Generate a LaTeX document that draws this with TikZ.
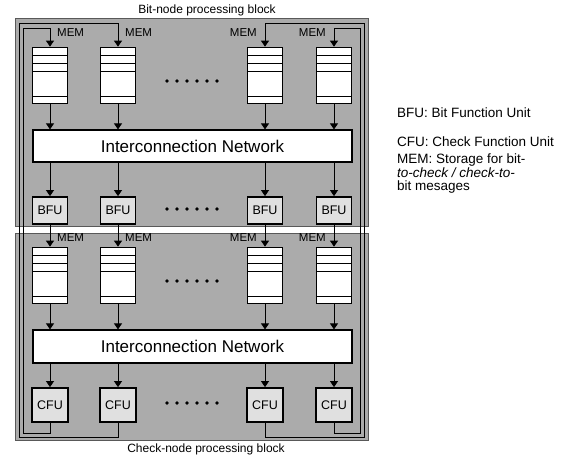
\documentclass[tikz,border=0pt]{standalone}
\usepackage{fontspec}
\setmainfont{Liberation Sans}
\usetikzlibrary{arrows.meta}

\begin{document}
\begin{tikzpicture}[x=1pt, y=-1pt,
    block/.style={fill=black!33, draw=black!65, line width=0.6pt},
    mem/.style={draw, fill=white, line width=0.7pt, minimum width=35pt, minimum height=56pt, inner sep=0pt,
        path picture={
            \foreach \dy in {8,16,24,49}
                \draw[line width=0.7pt] ([yshift=-\dy pt]path picture bounding box.north west) -- ([yshift=-\dy pt]path picture bounding box.north east);
            \foreach \dx in {-9.5,0,9.5}
                \fill ([xshift=\dx pt, yshift=-34pt]path picture bounding box.north) circle (1.9pt);
        }},
    net/.style={draw, fill=white, line width=1.2pt, minimum width=319pt, inner sep=0pt, font=\fontsize{17}{17}\selectfont},
    fu/.style={draw, fill=black!12, line width=1.8pt, minimum width=35pt, inner sep=0pt, font=\fontsize{12.5}{12.5}\selectfont},
    memlbl/.style={inner sep=0pt, font=\fontsize{11.5}{11.5}\selectfont},
    legend/.style={inner sep=0pt, align=left, font=\fontsize{13.5}{12.5}\selectfont},
    flow/.style={-{Triangle[width=8pt,length=6pt]}, line width=0.8pt},
]
    \useasboundingbox (0,0) rectangle (580,456);

    % Blocks
    \fill[block] (15,18) rectangle (368,226);
    \fill[block] (15,233) rectangle (368,440);
    \node[inner sep=0pt, font=\fontsize{12}{12}\selectfont] (bittitle) at (207,10) {Bit-node processing block};
    \node[inner sep=0pt, font=\fontsize{12}{12}\selectfont] (chktitle) at (206,449) {Check-node processing block};

    % Units
    \node[net, minimum height=32pt] (netbit) at (192.5,146) {Interconnection Network};
    \node[net, minimum height=33pt] (netchk) at (192.5,346.5) {Interconnection Network};
    \foreach \i/\x in {1/50, 2/118, 3/265, 4/334} {
        \node[mem] (memtop\i) at (\x,75) {};
        \node[fu, minimum height=27pt] (bfu\i) at (\x,210.5) {BFU};
        \node[mem] (membot\i) at (\x,275) {};
        \node[fu, minimum width=36pt, minimum height=34pt] (cfu\i) at (\x,405) {CFU};
        \draw[flow] (memtop\i.south) -- (memtop\i.south |- netbit.north);
        \draw[flow] (netbit.south -| bfu\i.north) -- (bfu\i.north);
        \draw[flow] (bfu\i.south) -- (membot\i.north);
        \draw[flow] (membot\i.south) -- (membot\i.south |- netchk.north);
        \draw[flow] (netchk.south -| cfu\i.north) -- (cfu\i.north);
    }

    % Dots between columns
    \foreach \yy in {81,209,281,403}
        \foreach \k in {0,...,5}
            \fill (167+\k*10,\yy) circle (1.8pt);

    % MEM labels
    \foreach \i in {1,2} {
        \node[memlbl, anchor=south west] at ([xshift=7pt, yshift=9.5pt]memtop\i.north) {MEM};
        \node[memlbl, anchor=south west] at ([xshift=7pt, yshift=5pt]membot\i.north) {MEM};
    }
    \foreach \i in {3,4} {
        \node[memlbl, anchor=south east] at ([xshift=-8pt, yshift=9.5pt]memtop\i.north) {MEM};
        \node[memlbl, anchor=south east] at ([xshift=-8pt, yshift=5pt]membot\i.north) {MEM};
    }

    % Feedback from CFUs to bit-node MEMs
    \draw[flow] (cfu1.south) -- ++(0,10) -| (23,28) -| (memtop1.north);
    \draw[flow] (cfu2.south) -- ++(0,14) -| (19,23) -| (memtop2.north);
    \draw[flow] (cfu3.south) -- ++(0,14) -| (364,23) -| (memtop3.north);
    \draw[flow] (cfu4.south) -- ++(0,10) -| (360,28) -| (memtop4.north);

    % Legend
    \node[legend, anchor=west] (lgbfu) at (397,113) {BFU: Bit Function Unit};
    \node[legend, anchor=west] (lgcfu) at (397,142) {CFU: Check Function Unit};
    \node[legend, anchor=north west] (lgmem) at (397,154) {MEM: Storage for bit-\\\textit{to-check / check-to-}\\bit mesages};
\end{tikzpicture}
\end{document}
